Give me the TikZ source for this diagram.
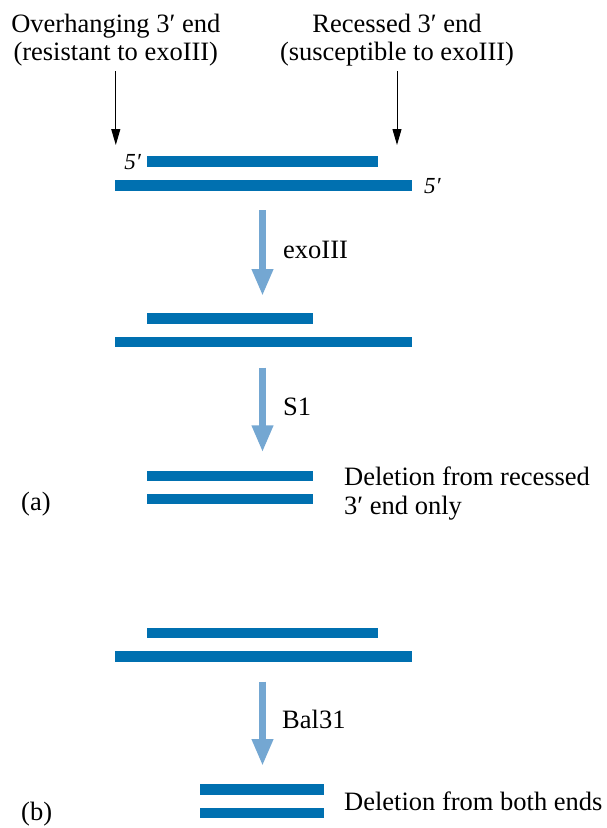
\documentclass[tikz,border=0pt]{standalone}
\usepackage{fontspec}
\setmainfont{Liberation Serif}
\usetikzlibrary{arrows.meta}
\definecolor{strandblue}{RGB}{0,112,176}
\definecolor{flowblue}{RGB}{116,167,210}
\tikzset{
  lbl/.style={font=\fontsize{26.5}{28.3}\selectfont, inner sep=0pt},
  endlbl/.style={font=\fontsize{23}{25}\selectfont\itshape, inner sep=0pt},
  pointer/.style={black, line width=1pt, -{Triangle[length=16pt,width=9pt]}},
  flow/.style={flowblue, line width=7.5pt, -{Triangle[length=27pt,width=20pt]}},
}
\begin{document}
\begin{tikzpicture}[x=1pt,y=-1pt]
  \useasboundingbox (0,0) rectangle (607,828);
  % headings
  \node[lbl, align=center, anchor=north] (over) at (115.8,13.6) {Overhanging 3′ end\\(resistant to exoIII)};
  \node[lbl, align=center, anchor=north] (recess) at (397,13.6) {Recessed 3′ end\\(susceptible to exoIII)};
  \coordinate (overtip) at (over.south |- 0,145);
  \coordinate (recesstip) at (recess.south |- 0,145);
  \draw[pointer, shorten <=5pt] (over.south) -- (overtip);
  \draw[pointer, shorten <=5pt] (recess.south) -- (recesstip);
  % (a) starting duplex
  \fill[strandblue] (147,156) rectangle (378,166.7);
  \fill[strandblue] (115,180) rectangle (412,190.7);
  \node[endlbl, anchor=base east] (fiveleft) at (141,169) {5′};
  \node[endlbl, anchor=base west] (fiveright) at (424,193.5) {5′};
  \coordinate (exostart) at (262.5,210);
  \coordinate (exoend) at (262.5,296);
  \draw[flow] (exostart) -- (exoend);
  \node[lbl, anchor=base west] (exo) at (283,258) {exoIII};
  % after exoIII
  \fill[strandblue] (147,313.3) rectangle (312.5,324.3);
  \fill[strandblue] (115,336.7) rectangle (412,347.3);
  \coordinate (sstart) at (262.5,367.7);
  \coordinate (send) at (262.5,452.3);
  \draw[flow] (sstart) -- (send);
  \node[lbl, anchor=base west] (sone) at (283,415) {S1};
  % after S1
  \fill[strandblue] (147,470.7) rectangle (312.5,481.3);
  \fill[strandblue] (147,493.7) rectangle (312.5,504.3);
  \node[lbl, align=left, anchor=north west] (dela) at (344,466.9) {Deletion from recessed\\3′ end only};
  \node[lbl, anchor=base west] (parta) at (21,510) {(a)};
  % (b) starting duplex
  \fill[strandblue] (147,627.7) rectangle (378,638.3);
  \fill[strandblue] (115,651) rectangle (412,661.7);
  \coordinate (balstart) at (262.5,681.7);
  \coordinate (balend) at (262.5,766);
  \draw[flow] (balstart) -- (balend);
  \node[lbl, anchor=base west] (bal) at (282,728) {Bal31};
  % after Bal31
  \fill[strandblue] (200,784.3) rectangle (324,795);
  \fill[strandblue] (200,807.7) rectangle (324,818.3);
  \node[lbl, anchor=base west] (delb) at (344,810) {Deletion from both ends};
  \node[lbl, anchor=base west] (partb) at (21,820) {(b)};
\end{tikzpicture}
\end{document}
